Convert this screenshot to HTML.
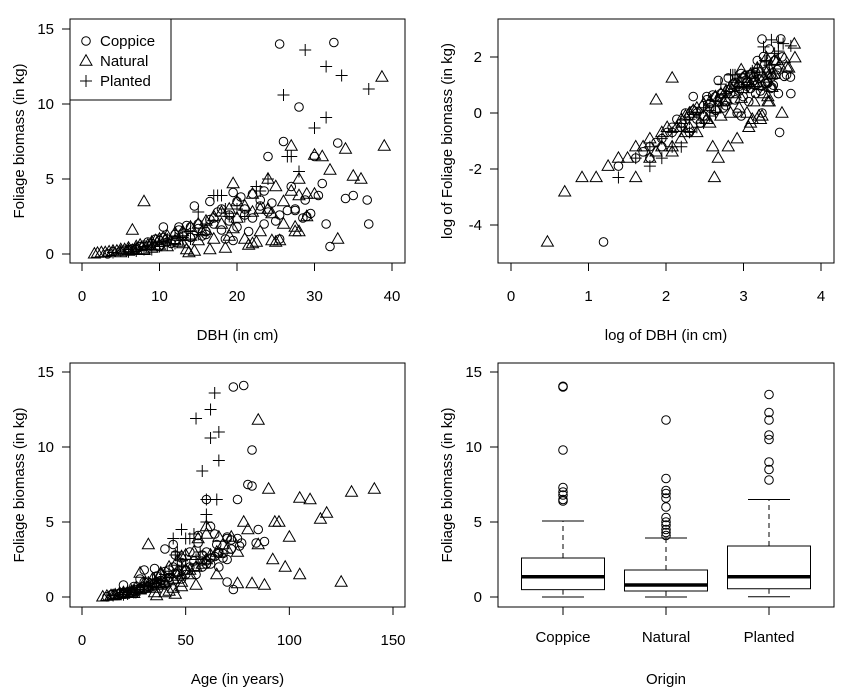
<!DOCTYPE html>
<html><head><meta charset="utf-8"><style>
html,body{margin:0;padding:0;background:#fff;}
svg{display:block;font-family:"Liberation Sans",sans-serif;}
</style></head><body>
<svg id="c" width="851" height="696" xmlns="http://www.w3.org/2000/svg"></svg>
<script>
// Coppice trees
const coppiceDbh=[3.3,4,5,5.5,6,6.5,7,7.5,8,9,10,10.5,11,12,12.5,13,14,15,16,17,18,19,20,21,22,23,24,25.5,26,27,28,29,30,31,32,33,34,35,37,32.5,14.5,19.5,23.5,25.5,27.5,31.5,36.8,28.8,16.5,10.5,
 6,7,8,9,10,11,12,13,14,15,16,17,18,19,20,21,22,23,24,25,9.5,11.5,13.5,15.5,17.5,19.5,21.5,23.5,25.5,27.5,8.5,12.5,16.5,20.5,24.5,28.5,29.5,30.5,26.5,18.5];
const coppiceFol=[0.01,0.15,0.2,0.25,0.3,0.35,0.4,0.5,0.6,0.7,0.9,1.1,0.8,1.3,1.6,1.2,1.8,2.0,1.5,2.4,3.0,2.2,3.5,2.6,4.0,3.2,6.5,14.0,7.5,4.5,9.8,2.5,6.5,4.7,0.5,7.4,3.7,3.9,2.0,14.1,3.2,4.1,4.2,1.0,3.0,2.0,3.6,3.6,3.5,1.8,
 0.2,0.3,0.5,0.6,0.5,1.0,0.9,1.4,1.1,1.7,1.3,2.0,1.6,2.6,1.8,3.0,2.4,3.6,2.8,2.2,1.0,0.7,1.9,1.2,2.8,0.9,1.5,2.0,2.6,2.9,0.8,1.8,2.3,3.8,3.4,2.4,2.7,3.9,2.9,1.0];
const coppiceAge=[12,14,15,18,20,22,25,28,30,32,35,38,40,42,45,48,50,52,55,58,60,62,65,68,70,72,75,73,80,85,82,70,60,62,73,82,88,75,66,78,40,56,64,70,66,58,84,77,44,30,
 20,24,26,28,30,32,34,36,38,40,42,44,46,48,50,52,54,56,58,60,30,25,35,28,45,38,50,55,62,66,20,42,48,72,76,60,64,70,68,36];
// Natural trees
const naturalDbh=[1.6,2,2.5,3,3.5,4,4.5,5,5.5,6,6.5,7,7.5,8,8.5,9,9.5,10,10.5,11,12,13,14,15,16,17,18,19,20,21,22,23,24,25,26,27,28,29,30,31,32,33,34,35,36,38.7,39,8,14.5,22.5,27.5,24.5,19.5,13.5,
 5,6,7,8,9,10,11,12,13,14,15,16,17,18,19,20,21,22,23,24,25,26,27,28,29,30,6.5,9.5,12.5,15.5,18.5,21.5,24.5,27.5,13.8,16.5,19.5,22,25.5,28];
const naturalFol=[0.01,0.06,0.1,0.1,0.15,0.2,0.2,0.3,0.3,0.4,1.6,0.5,0.6,3.5,0.6,0.8,0.9,1.0,1.1,1.2,1.4,1.5,1.8,2.0,2.2,2.5,2.8,3.0,3.5,3.2,4.0,3.0,5.0,4.5,3.5,7.2,5.0,4.0,6.6,6.5,5.6,1.0,7.0,5.2,5.0,11.8,7.2,0.25,0.2,0.8,1.5,0.9,4.7,0.3,
 0.1,0.2,0.3,0.3,0.4,0.6,0.5,0.9,0.7,1.2,0.9,1.6,1.0,2.0,1.2,2.4,1.0,2.8,1.5,3.0,0.8,2.0,4.2,1.5,2.5,4.0,0.25,0.5,0.8,1.5,0.4,0.6,2.7,1.8,0.1,0.3,1.7,0.7,0.9,3.9];
const naturalAge=[10,12,14,15,16,18,20,22,24,25,28,28,30,32,35,36,38,40,42,44,46,48,50,55,58,60,62,65,68,70,72,75,78,80,85,90,95,100,105,110,118,125,130,115,93,85,141,25,45,55,65,75,60,35,
 16,18,20,22,24,26,28,30,32,34,36,38,40,42,44,46,48,50,52,54,88,98,60,105,92,66,22,28,34,38,42,44,48,52,36,40,46,48,82,56];
// Planted trees
const plantedDbh=[4,5,6,7,8,9,10,11,12,13,14,15,16,17,18,19,20,24,26,27,30,31.5,31.5,33.5,37,28.8,26.5,22.5,
 6,7,8,9,10,11,12,13,14,15,17.5,18.5,21,23,28];
const plantedFol=[0.1,0.2,0.3,0.4,0.5,0.6,0.8,1.0,1.2,1.1,1.5,2.8,2.0,3.9,3.9,2.5,3.0,5.0,10.6,6.5,8.4,12.5,9.1,11.9,11.0,13.6,6.5,4.5,
 0.15,0.2,0.3,0.3,0.5,0.6,0.7,0.9,1.0,1.3,3.9,3.0,2.5,4.2,5.5];
const plantedAge=[15,18,20,22,25,28,30,32,35,38,40,45,48,50,52,55,57,60,62,65,58,62,66,55,66,64,60,48,
 20,22,25,26,28,30,33,36,38,42,44,46,50,54,60];
// Boxplot stats by origin
const boxCats=["Coppice","Natural","Planted"];
const boxQ1=[0.49,0.4,0.55];
const boxMed=[1.35,0.8,1.35];
const boxQ3=[2.6,1.8,3.4];
const boxLo=[0,0,0.02];
const boxHi=[5.07,3.93,6.5];
const boxOut=[[6.4,6.5,6.8,7.0,7.3,9.8,14.0,14.05],[4.1,4.3,4.5,4.8,5.0,5.3,6.0,6.6,6.9,7.1,7.9,11.8],[7.8,8.5,9.0,10.5,10.8,11.8,12.3,13.5]];
// Tick labels
const dbhTicks=[0,10,20,30,40];
const logDbhTicks=[0,1,2,3,4];
const folTicks=[0,5,10,15];
const logFolTicks=[-4,-2,0,2];
const ageTicks=[0,50,100,150];

const NS="http://www.w3.org/2000/svg";
const svg=document.getElementById('c');
function mk(tag,attrs,parent){const e=document.createElementNS(NS,tag);for(const k in attrs)e.setAttribute(k,attrs[k]);(parent||svg).appendChild(e);return e;}
function lin(d0,d1,r0,r1){return v=>r0+(v-d0)*(r1-r0)/(d1-d0);}
function txt(x,y,s,anchor,rot,name,g){const t=mk('text',{x:x,y:y,'font-size':15,'text-anchor':anchor||'middle',fill:'#000'},g);if(rot)t.setAttribute('transform','rotate(-90 '+x+' '+y+')');t.textContent=s;


return t;}

function panel(name,L,R,T,B,xs,ys,xt,yt,xlab,ylab){
  const g=mk('g',{});
  
  
  const box=mk('rect',{x:L,y:T,width:R-L,height:B-T,fill:'none',stroke:'#000','stroke-width':1},g);
  
  
  if(xt){
    const ax=mk('line',{x1:xs(xt[0]),x2:xs(xt[xt.length-1]),y1:B,y2:B,stroke:'#000'},g);
    
    
    xt.forEach(v=>{const tk=mk('line',{x1:xs(v),x2:xs(v),y1:B,y2:B+8,stroke:'#000'},g);
      
      
      txt(xs(v),B+38,String(v),'middle',false,'x-tick-label',g);});
  }
  const ay=mk('line',{x1:L,x2:L,y1:ys(yt[0]),y2:ys(yt[yt.length-1]),stroke:'#000'},g);
  
  
  yt.forEach(v=>{const tk=mk('line',{x1:L-8,x2:L,y1:ys(v),y2:ys(v),stroke:'#000'},g);
    
    
    txt(L-16,ys(v)+5,String(v),'middle',false,'y-tick-label',g);
    g.lastChild.setAttribute('text-anchor','end');
  });
  txt((L+R)/2,B+77,xlab,'middle',false,'x-axis-title',g);
  txt(L-46,(T+B)/2,ylab,'middle',true,'y-axis-title',g);
  return g;
}
function marker(g,type,x,y){
  let e;
  if(type==='C'){e=mk('circle',{cx:x,cy:y,r:4.3,fill:'none',stroke:'#000','stroke-width':1},g);}
  else if(type==='N'){e=mk('polygon',{points:(x)+','+(y-6.2)+' '+(x-6)+','+(y+4.2)+' '+(x+6)+','+(y+4.2),fill:'none',stroke:'#000','stroke-width':1},g);}
  else {e=mk('path',{d:'M'+(x-6)+' '+y+'H'+(x+6)+'M'+x+' '+(y-6)+'V'+(y+6),stroke:'#000','stroke-width':1,fill:'none'},g);}
  return e;
}
const groups=[['C',coppiceDbh,coppiceFol,coppiceAge],['N',naturalDbh,naturalFol,naturalAge],['P',plantedDbh,plantedFol,plantedAge]];

// Panel 1
{const xs=lin(0,40,82,392),ys=lin(0,15,254,29);
 const g=panel('dbh-scatter-panel',70,405,19,263,xs,ys,dbhTicks,folTicks,'DBH (in cm)','Foliage biomass (in kg)');
 groups.forEach(([t,d,f])=>d.forEach((v,i)=>{const m=marker(g,t,xs(v),ys(f[i]));
   
   }));
 const lg=mk('g',{},g);
 
 
 mk('rect',{x:70,y:19,width:101,height:81,fill:'#fff',stroke:'#000'},lg);
 const ln=['Coppice','Natural','Planted'],lt=['C','N','P'];
 ln.forEach((s,i)=>{const m=marker(lg,lt[i],86,41+i*20);
   
   
   txt(100,46+i*20,s,'start',false,'legend-entry',lg);});
}
// Panel 2
{const xs=lin(0,4,511,821),ys=lin(0,2,113,57);
 const g=panel('log-scatter-panel',498,834,19,263,xs,ys,logDbhTicks,logFolTicks,'log of DBH (in cm)','log of Foliage biomass (in kg)');
 groups.forEach(([t,d,f])=>d.forEach((v,i)=>{const m=marker(g,t,xs(Math.log(v)),ys(Math.log(f[i])));
   
   }));
}
// Panel 3
{const xs=lin(0,150,82,393),ys=lin(0,15,597,372);
 const g=panel('age-scatter-panel',70,405,363,607,xs,ys,ageTicks,folTicks,'Age (in years)','Foliage biomass (in kg)');
 groups.forEach(([t,d,f,a])=>a.forEach((v,i)=>{const m=marker(g,t,xs(v),ys(f[i]));
   
   }));
}
// Panel 4
{const ys=lin(0,15,597,372);const cx=i=>563+i*103;
 const g=panel('origin-boxplot-panel',498,834,363,607,null,ys,null,folTicks,'Origin','Foliage biomass (in kg)');
 boxCats.forEach((c,i)=>{const x=cx(i);
   const bg=mk('g',{},g);
   
   
   mk('line',{x1:x,x2:x,y1:ys(boxQ3[i]),y2:ys(boxHi[i]),stroke:'#000','stroke-dasharray':'5,4'},bg);
   mk('line',{x1:x,x2:x,y1:ys(boxQ1[i]),y2:ys(boxLo[i]),stroke:'#000','stroke-dasharray':'5,4'},bg);
   mk('line',{x1:x-21,x2:x+21,y1:ys(boxHi[i]),y2:ys(boxHi[i]),stroke:'#000'},bg);
   mk('line',{x1:x-21,x2:x+21,y1:ys(boxLo[i]),y2:ys(boxLo[i]),stroke:'#000'},bg);
   mk('rect',{x:x-41.5,y:ys(boxQ3[i]),width:83,height:ys(boxQ1[i])-ys(boxQ3[i]),fill:'#fff',stroke:'#000'},bg);
   mk('line',{x1:x-41.5,x2:x+41.5,y1:ys(boxMed[i]),y2:ys(boxMed[i]),stroke:'#000','stroke-width':3.5},bg);
   boxOut[i].forEach(v=>{const o=mk('circle',{cx:x,cy:ys(v),r:4.3,fill:'none',stroke:'#000'},bg);
     
     });
   const tk=mk('line',{x1:x,x2:x,y1:607,y2:615,stroke:'#000'},g);
   
   
   txt(x,642,c,'middle',false,'x-tick-label',g);
 });
}
</script>
</body></html>
